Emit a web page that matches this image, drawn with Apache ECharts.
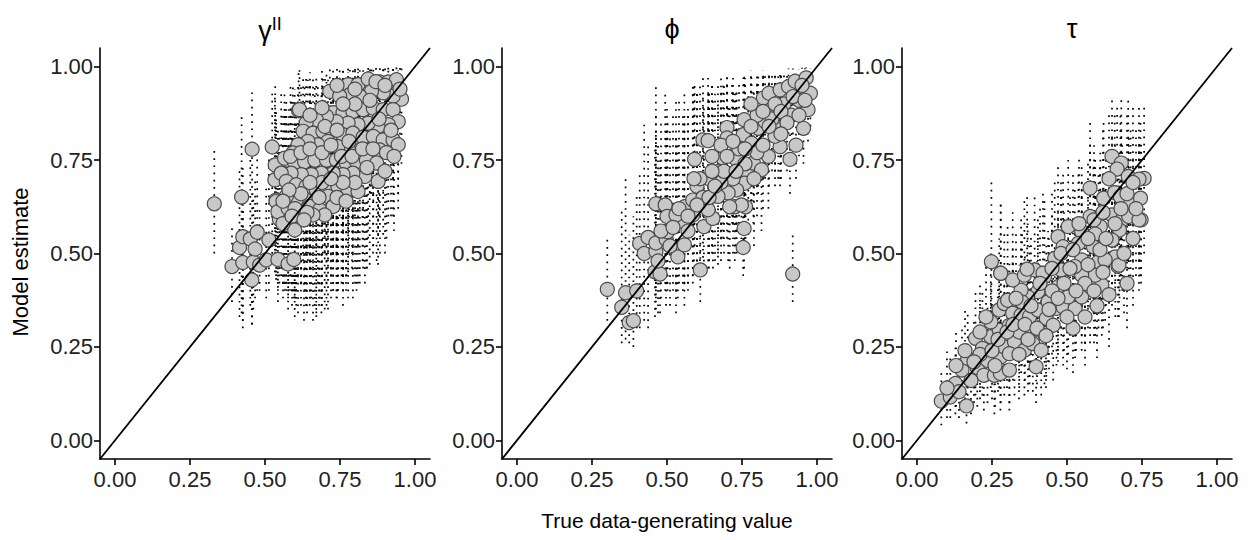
<!DOCTYPE html>
<html><head><meta charset="utf-8">
<script src="https://cdn.jsdelivr.net/npm/echarts@6/dist/echarts.min.js"></script>
<style>html,body{margin:0;padding:0;background:#fff}#c{width:1255px;height:540px}</style>
</head><body><div id="c"></div>
<script>
// ---- data: [true value, model estimate, interval low, interval high] ----
const tickValues = [0, 0.25, 0.5, 0.75, 1];
const xAxisTitle = 'True data-generating value';
const yAxisTitle = 'Model estimate';

const gammaData = [
[0.331,0.633,0.50,0.785],[0.390,0.465,0.37,0.57],[0.415,0.516,0.33,0.72],[0.422,0.651,0.34,0.87],
[0.426,0.545,0.30,0.74],[0.426,0.476,0.32,0.62],[0.451,0.539,0.36,0.76],[0.456,0.429,0.31,0.58],
[0.457,0.779,0.31,0.935],[0.461,0.477,0.35,0.66],[0.467,0.512,0.38,0.70],[0.474,0.557,0.40,0.80],
[0.482,0.469,0.40,0.62],[0.504,0.483,0.38,0.68],[0.513,0.536,0.40,0.76],[0.524,0.785,0.48,0.94],
[0.533,0.697,0.45,0.92],[0.534,0.737,0.50,0.95],[0.537,0.643,0.43,0.88],[0.543,0.484,0.37,0.74],
[0.548,0.592,0.42,0.82],[0.566,0.622,0.40,0.90],[0.577,0.472,0.35,0.72],[0.596,0.484,0.38,0.70],
[0.599,0.563,0.33,0.85],[0.612,0.883,0.65,0.995],
[0.615,0.885,0.62,0.995],[0.716,0.934,0.66,0.995],[0.777,0.952,0.72,0.998],[0.810,0.952,0.74,0.998],
[0.844,0.967,0.78,0.999],[0.883,0.959,0.76,0.999],[0.911,0.959,0.80,0.999],[0.938,0.965,0.82,0.999],
[0.955,0.913,0.74,0.995],[0.927,0.921,0.70,0.995],[0.894,0.930,0.68,0.997],[0.855,0.934,0.66,0.997],
[0.816,0.921,0.62,0.996],[0.783,0.925,0.64,0.996],[0.749,0.921,0.60,0.995],[0.727,0.877,0.58,0.99],
[0.760,0.877,0.56,0.99],[0.793,0.880,0.60,0.992],[0.827,0.885,0.62,0.993],[0.861,0.889,0.64,0.994],
[0.894,0.885,0.66,0.994],[0.927,0.885,0.70,0.995],[0.944,0.853,0.66,0.99],[0.911,0.845,0.58,0.99],
[0.877,0.840,0.55,0.99],[0.844,0.849,0.54,0.99],[0.810,0.845,0.52,0.985],[0.777,0.849,0.56,0.985],
[0.738,0.853,0.50,0.98],[0.705,0.867,0.55,0.985],[0.671,0.858,0.52,0.98],[0.637,0.849,0.50,0.975],
[0.627,0.827,0.48,0.97],[0.660,0.822,0.46,0.97],[0.693,0.827,0.50,0.975],[0.727,0.822,0.48,0.97],
[0.760,0.818,0.44,0.97],[0.793,0.822,0.50,0.975],[0.827,0.811,0.46,0.97],[0.861,0.813,0.52,0.975],
[0.894,0.804,0.55,0.97],[0.927,0.804,0.60,0.975],[0.944,0.791,0.62,0.97],[0.883,0.777,0.50,0.96],
[0.849,0.777,0.47,0.96],[0.816,0.777,0.42,0.955],[0.777,0.782,0.45,0.96],[0.743,0.786,0.40,0.96],
[0.710,0.800,0.46,0.965],[0.676,0.791,0.42,0.96],[0.643,0.800,0.48,0.965],[0.610,0.791,0.44,0.96],
[0.593,0.769,0.40,0.95],[0.565,0.755,0.42,0.94],[0.599,0.742,0.38,0.94],[0.632,0.746,0.40,0.945],
[0.666,0.750,0.36,0.95],[0.705,0.750,0.42,0.95],[0.738,0.750,0.38,0.95],[0.771,0.742,0.44,0.945],
[0.805,0.746,0.40,0.95],[0.838,0.750,0.46,0.95],[0.872,0.742,0.48,0.94],[0.877,0.693,0.47,0.92],
[0.833,0.706,0.42,0.93],[0.793,0.715,0.38,0.93],[0.760,0.711,0.36,0.93],[0.727,0.715,0.40,0.93],
[0.688,0.715,0.34,0.93],[0.654,0.711,0.38,0.92],[0.621,0.711,0.42,0.92],[0.587,0.715,0.40,0.92],
[0.554,0.715,0.44,0.93],[0.571,0.693,0.40,0.91],[0.604,0.684,0.36,0.91],[0.637,0.679,0.38,0.90],
[0.671,0.670,0.33,0.90],[0.705,0.679,0.36,0.91],[0.743,0.679,0.40,0.91],[0.777,0.670,0.38,0.90],
[0.810,0.666,0.42,0.90],[0.710,0.653,0.35,0.89],[0.671,0.639,0.34,0.88],[0.637,0.643,0.36,0.88],
[0.604,0.643,0.40,0.88],[0.571,0.653,0.42,0.88],[0.537,0.639,0.44,0.86],[0.543,0.612,0.40,0.84],
[0.577,0.621,0.38,0.85],[0.610,0.603,0.34,0.84],[0.649,0.626,0.36,0.86],[0.682,0.617,0.38,0.85],
[0.727,0.626,0.40,0.86],[0.699,0.603,0.35,0.84],[0.660,0.603,0.32,0.84],
[0.585,0.760,0.44,0.95],[0.620,0.770,0.42,0.95],[0.650,0.780,0.46,0.96],[0.690,0.770,0.40,0.96],
[0.720,0.790,0.44,0.96],[0.755,0.760,0.42,0.955],[0.790,0.760,0.46,0.95],[0.825,0.780,0.48,0.96],
[0.860,0.780,0.50,0.96],[0.905,0.770,0.54,0.96],[0.920,0.830,0.60,0.98],[0.880,0.860,0.60,0.985],
[0.850,0.910,0.66,0.995],[0.800,0.900,0.60,0.99],[0.760,0.900,0.58,0.99],[0.690,0.890,0.56,0.99],
[0.650,0.870,0.52,0.985],[0.700,0.840,0.50,0.98],[0.740,0.830,0.48,0.975],[0.780,0.800,0.50,0.97],
[0.840,0.730,0.46,0.94],[0.800,0.690,0.42,0.92],[0.760,0.690,0.40,0.92],[0.690,0.690,0.36,0.92],
[0.650,0.690,0.38,0.91],[0.620,0.660,0.36,0.89],[0.580,0.670,0.40,0.89],[0.560,0.640,0.42,0.87],
[0.600,0.620,0.38,0.86],[0.640,0.610,0.34,0.85],[0.680,0.650,0.36,0.88],[0.740,0.650,0.38,0.89],
[0.770,0.640,0.40,0.88],[0.720,0.700,0.38,0.92],[0.900,0.720,0.50,0.93],[0.930,0.760,0.56,0.95],
[0.870,0.960,0.78,0.999],[0.900,0.950,0.74,0.999],[0.800,0.940,0.70,0.997],[0.740,0.950,0.70,0.997],
[0.950,0.940,0.78,0.998],[0.560,0.580,0.38,0.82],[0.590,0.600,0.36,0.84],[0.630,0.590,0.32,0.84]
];

const phiData = [
[0.301,0.404,0.32,0.54],[0.349,0.356,0.26,0.62],[0.362,0.395,0.27,0.70],[0.374,0.315,0.26,0.55],
[0.388,0.320,0.25,0.60],[0.399,0.400,0.30,0.66],[0.409,0.527,0.30,0.72],[0.424,0.500,0.32,0.85],
[0.437,0.543,0.30,0.80],[0.460,0.451,0.33,0.78],[0.463,0.505,0.35,0.82],[0.463,0.528,0.38,0.88],
[0.463,0.633,0.42,0.95],[0.477,0.445,0.34,0.75],[0.494,0.630,0.40,0.93],[0.497,0.538,0.36,0.84],
[0.500,0.599,0.42,0.90],[0.502,0.558,0.40,0.86],[0.530,0.509,0.34,0.82],[0.536,0.491,0.38,0.80],
[0.553,0.585,0.40,0.88],[0.558,0.523,0.36,0.86],[0.586,0.603,0.42,0.93],[0.611,0.456,0.37,0.62],
[0.623,0.572,0.44,0.90],[0.653,0.594,0.46,0.92],[0.726,0.625,0.48,0.94],[0.754,0.516,0.44,0.62],
[0.757,0.567,0.46,0.70],[0.762,0.625,0.52,0.88],[0.919,0.445,0.37,0.555],[0.558,0.625,0.42,0.94],
[0.530,0.603,0.40,0.92],[0.586,0.643,0.44,0.95],[0.637,0.617,0.46,0.93],
[0.592,0.752,0.52,0.96],[0.620,0.804,0.56,0.97],[0.637,0.802,0.58,0.975],[0.700,0.837,0.62,0.98],
[0.700,0.809,0.60,0.975],[0.670,0.719,0.50,0.95],[0.687,0.755,0.54,0.96],[0.717,0.761,0.58,0.96],
[0.754,0.818,0.62,0.97],[0.757,0.858,0.66,0.98],[0.782,0.795,0.64,0.97],[0.804,0.835,0.66,0.98],
[0.821,0.916,0.74,0.99],[0.840,0.929,0.76,0.99],[0.860,0.885,0.72,0.985],[0.877,0.938,0.80,0.99],
[0.905,0.947,0.82,0.995],[0.927,0.961,0.86,0.995],[0.964,0.970,0.88,0.998],[0.978,0.929,0.84,0.995],
[0.970,0.885,0.80,0.99],[0.955,0.835,0.74,0.98],[0.910,0.752,0.66,0.96],[0.877,0.786,0.68,0.97],
[0.871,0.831,0.70,0.975],[0.838,0.760,0.62,0.95],[0.827,0.853,0.70,0.98],[0.860,0.814,0.68,0.97],
[0.732,0.751,0.56,0.94],[0.771,0.715,0.55,0.93],[0.788,0.742,0.58,0.94],[0.815,0.724,0.56,0.93],
[0.759,0.688,0.52,0.92],[0.732,0.670,0.50,0.90],[0.704,0.662,0.48,0.90],[0.670,0.653,0.47,0.91],
[0.748,0.630,0.50,0.88],[0.709,0.625,0.46,0.90],
[0.890,0.900,0.76,0.99],[0.940,0.910,0.80,0.993],[0.915,0.870,0.74,0.99],[0.950,0.950,0.84,0.997],
[0.800,0.870,0.68,0.985],[0.780,0.900,0.70,0.99],[0.650,0.760,0.52,0.96],[0.680,0.790,0.54,0.97],
[0.720,0.700,0.50,0.93],[0.740,0.780,0.58,0.96],[0.600,0.680,0.46,0.94],[0.620,0.650,0.45,0.93],
[0.680,0.690,0.48,0.93],[0.570,0.560,0.40,0.88],[0.640,0.700,0.48,0.94],[0.800,0.770,0.60,0.96],
[0.850,0.860,0.72,0.985],[0.930,0.790,0.70,0.97],
[0.480,0.560,0.38,0.86],[0.520,0.570,0.40,0.88],[0.540,0.620,0.42,0.92],[0.570,0.600,0.42,0.90],
[0.600,0.630,0.44,0.93],[0.610,0.700,0.48,0.95],[0.640,0.650,0.46,0.93],[0.660,0.680,0.48,0.94],
[0.690,0.720,0.50,0.95],[0.700,0.760,0.54,0.96],[0.720,0.800,0.58,0.97],[0.760,0.780,0.60,0.97],
[0.780,0.840,0.64,0.98],[0.790,0.700,0.52,0.93],[0.820,0.790,0.62,0.97],[0.840,0.840,0.68,0.98],
[0.860,0.900,0.74,0.99],[0.880,0.880,0.74,0.99],[0.900,0.850,0.72,0.985],[0.920,0.920,0.80,0.995],
[0.940,0.870,0.76,0.99],[0.960,0.910,0.82,0.996],[0.880,0.820,0.70,0.98],[0.820,0.880,0.70,0.99],
[0.760,0.740,0.56,0.95],[0.730,0.720,0.52,0.94],[0.650,0.720,0.50,0.95],[0.590,0.700,0.46,0.95],
[0.510,0.520,0.36,0.84],[0.470,0.480,0.34,0.80]
];

const tauData = [
[0.081,0.105,0.04,0.19],[0.111,0.116,0.06,0.22],[0.128,0.152,0.07,0.26],[0.165,0.092,0.045,0.20],
[0.150,0.188,0.08,0.30],[0.169,0.219,0.10,0.34],[0.195,0.273,0.12,0.40],[0.201,0.195,0.09,0.32],
[0.223,0.174,0.08,0.30],[0.235,0.214,0.10,0.36],[0.258,0.174,0.07,0.34],[0.278,0.179,0.08,0.33],
[0.308,0.188,0.08,0.35],[0.279,0.223,0.10,0.38],[0.246,0.277,0.14,0.42],[0.218,0.246,0.12,0.40],
[0.274,0.295,0.14,0.46],[0.291,0.250,0.12,0.42],[0.325,0.264,0.12,0.44],[0.308,0.232,0.10,0.40],
[0.397,0.197,0.10,0.36],[0.358,0.241,0.12,0.42],[0.386,0.259,0.13,0.44],[0.414,0.241,0.12,0.42],
[0.425,0.286,0.15,0.46],[0.375,0.295,0.15,0.48],[0.341,0.290,0.14,0.47],[0.308,0.308,0.16,0.48],
[0.246,0.317,0.17,0.50],[0.274,0.349,0.19,0.54],[0.291,0.366,0.20,0.56],[0.319,0.340,0.18,0.52],
[0.347,0.335,0.18,0.52],[0.375,0.331,0.17,0.52],[0.403,0.349,0.19,0.55],[0.431,0.326,0.17,0.52],
[0.454,0.308,0.16,0.50],[0.437,0.371,0.21,0.56],[0.465,0.353,0.20,0.55],[0.487,0.357,0.20,0.56],
[0.527,0.353,0.22,0.55],[0.504,0.384,0.23,0.58],[0.549,0.384,0.24,0.60],[0.577,0.411,0.26,0.62],
[0.616,0.416,0.28,0.64],[0.594,0.442,0.28,0.66],[0.549,0.442,0.28,0.66],[0.670,0.466,0.33,0.70],
[0.470,0.411,0.24,0.62],[0.403,0.398,0.22,0.60],[0.369,0.384,0.21,0.58],[0.347,0.402,0.22,0.60],
[0.302,0.375,0.20,0.58],[0.279,0.447,0.24,0.64],[0.319,0.429,0.24,0.62],[0.358,0.442,0.25,0.64],
[0.392,0.456,0.26,0.66],[0.425,0.438,0.25,0.64],
[0.650,0.760,0.50,0.91],[0.681,0.742,0.52,0.92],[0.667,0.726,0.50,0.90],[0.704,0.706,0.48,0.92],
[0.757,0.701,0.50,0.90],[0.740,0.699,0.48,0.89],[0.577,0.675,0.44,0.86],[0.622,0.648,0.44,0.85],
[0.659,0.663,0.46,0.88],[0.678,0.652,0.44,0.87],[0.712,0.633,0.42,0.84],[0.745,0.648,0.44,0.86],
[0.650,0.603,0.40,0.82],[0.684,0.590,0.40,0.80],[0.706,0.599,0.40,0.82],[0.747,0.590,0.42,0.80],
[0.577,0.599,0.40,0.80],[0.611,0.572,0.38,0.78],[0.675,0.563,0.38,0.78],[0.504,0.572,0.38,0.75],
[0.549,0.558,0.36,0.74],[0.594,0.552,0.36,0.76],[0.470,0.545,0.36,0.74],[0.487,0.518,0.34,0.72],
[0.538,0.527,0.34,0.72],[0.588,0.518,0.34,0.74],[0.650,0.536,0.36,0.76],[0.661,0.491,0.33,0.72],
[0.673,0.469,0.33,0.70],[0.248,0.478,0.30,0.69],[0.279,0.447,0.28,0.64],[0.367,0.458,0.28,0.66],
[0.420,0.447,0.27,0.66],[0.459,0.487,0.30,0.70],[0.549,0.483,0.30,0.70],[0.605,0.478,0.30,0.72],
[0.627,0.483,0.32,0.72],[0.526,0.465,0.28,0.68],[0.481,0.456,0.28,0.66],
[0.520,0.300,0.18,0.46],[0.560,0.330,0.20,0.50],[0.600,0.360,0.22,0.54],[0.640,0.390,0.25,0.58],
[0.700,0.420,0.30,0.62],[0.720,0.540,0.36,0.76],[0.740,0.590,0.40,0.80],[0.690,0.500,0.34,0.74],
[0.560,0.420,0.26,0.62],[0.500,0.330,0.19,0.50],[0.450,0.400,0.23,0.60],[0.620,0.450,0.30,0.68],
[0.350,0.370,0.20,0.56],[0.260,0.200,0.09,0.36],[0.180,0.160,0.07,0.28],[0.140,0.130,0.06,0.24],
[0.210,0.230,0.11,0.38],
[0.100,0.140,0.06,0.24],[0.130,0.200,0.09,0.30],[0.160,0.240,0.11,0.35],[0.190,0.210,0.10,0.33],
[0.210,0.290,0.14,0.42],[0.230,0.330,0.17,0.48],[0.250,0.240,0.11,0.38],[0.270,0.270,0.13,0.42],
[0.300,0.290,0.14,0.45],[0.320,0.310,0.16,0.48],[0.330,0.380,0.20,0.56],[0.340,0.230,0.11,0.40],
[0.360,0.310,0.16,0.50],[0.380,0.360,0.19,0.55],[0.400,0.300,0.15,0.48],[0.410,0.420,0.23,0.62],
[0.440,0.350,0.19,0.54],[0.450,0.460,0.27,0.66],[0.470,0.380,0.21,0.58],[0.480,0.500,0.30,0.70],
[0.490,0.420,0.24,0.62],[0.510,0.460,0.28,0.66],[0.520,0.510,0.32,0.72],[0.530,0.400,0.24,0.60],
[0.540,0.580,0.38,0.76],[0.570,0.470,0.30,0.68],[0.570,0.540,0.35,0.74],[0.590,0.590,0.40,0.80],
[0.610,0.510,0.34,0.74],[0.620,0.610,0.42,0.84],[0.630,0.540,0.36,0.76],[0.640,0.700,0.48,0.88],
[0.660,0.580,0.40,0.80],[0.680,0.620,0.44,0.84],[0.700,0.660,0.46,0.88],[0.720,0.690,0.48,0.90],
[0.730,0.620,0.44,0.84],[0.590,0.400,0.26,0.60],[0.430,0.280,0.14,0.46],[0.370,0.270,0.13,0.44]
];

const identityLine = [[-0.05, -0.05], [1.05, 1.05]];

// ---- layout / style ----
const FONT = '"Liberation Sans", Arial, sans-serif';
const panels = [
  { data: gammaData, left: 100, title: '{g|γ}{s|II}' },
  { data: phiData,   left: 502, title: '{g|ϕ}' },
  { data: tauData,   left: 902, title: '{g|τ}' }
];
const GW = 330, GT = 48, GH = 411;

function axisCommon() {
  return {
    type: 'value', min: -0.05, max: 1.05,
    axisLine: { show: true, onZero: false, lineStyle: { color: '#000', width: 1.6 } },
    axisTick: { show: true, length: 6, customValues: tickValues, lineStyle: { color: '#000', width: 1.6 } },
    axisLabel: { show: true, customValues: tickValues, color: '#222', fontSize: 22, fontFamily: FONT,
                 formatter: v => v.toFixed(2) },
    splitLine: { show: false }
  };
}

const grid = [], xAxis = [], yAxis = [], series = [], title = [];
panels.forEach((p, i) => {
  grid.push({ left: p.left, top: GT, width: GW, height: GH });
  const xa = Object.assign(axisCommon(), { gridIndex: i });
  xa.axisLabel = Object.assign({}, xa.axisLabel, { margin: 9 });
  xAxis.push(xa);
  const ya = Object.assign(axisCommon(), { gridIndex: i });
  ya.axisLabel = Object.assign({}, ya.axisLabel, { margin: 7 });
  yAxis.push(ya);
  title.push({
    text: p.title, left: p.left + GW / 2, top: 10, textAlign: 'center',
    textStyle: {
      fontWeight: 'normal',
      rich: {
        g: { fontSize: 27, fontFamily: FONT, color: '#000', fontWeight: 'normal' },
        s: { fontSize: 18, fontFamily: FONT, color: '#000', fontWeight: 'normal', verticalAlign: 'top', padding: [0, 0, 14, 0] }
      }
    }
  });
  series.push({
    type: 'custom', xAxisIndex: i, yAxisIndex: i, data: p.data, clip: true,
    encode: { x: 0, y: [2, 3] },
    renderItem: (params, api) => {
      const a = api.coord([api.value(0), api.value(2)]);
      const b = api.coord([api.value(0), api.value(3)]);
      return { type: 'line', shape: { x1: a[0], y1: a[1], x2: b[0], y2: b[1] },
               style: { stroke: '#000', lineWidth: 1.7, lineDash: [1.7, 5.5] } };
    },
    z: 1, silent: true
  });
  series.push({
    type: 'scatter', xAxisIndex: i, yAxisIndex: i, data: p.data.map(d => [d[0], d[1]]),
    symbol: 'circle', symbolSize: 14,
    itemStyle: { color: '#c8c8c8', borderColor: '#4a4a4a', borderWidth: 1.2, opacity: 1 },
    z: 2, silent: true
  });
  series.push({
    type: 'line', xAxisIndex: i, yAxisIndex: i, data: identityLine, symbol: 'none',
    lineStyle: { color: '#000', width: 1.8 }, z: 3, silent: true
  });
});

const chart = echarts.init(document.getElementById('c'), null, { renderer: 'svg' });
chart.setOption({
  animation: false, backgroundColor: '#fff',
  title, grid, xAxis, yAxis, series,
  graphic: [
    { type: 'text', x: 667, y: 510, style: { text: xAxisTitle, font: '21px ' + FONT, fill: '#000', align: 'center', verticalAlign: 'top' } },
    { type: 'text', x: 9, y: 262, rotation: Math.PI / 2, style: { text: yAxisTitle, font: '22px ' + FONT, fill: '#000', align: 'center', verticalAlign: 'top' } }
  ]
});
</script></body></html>
